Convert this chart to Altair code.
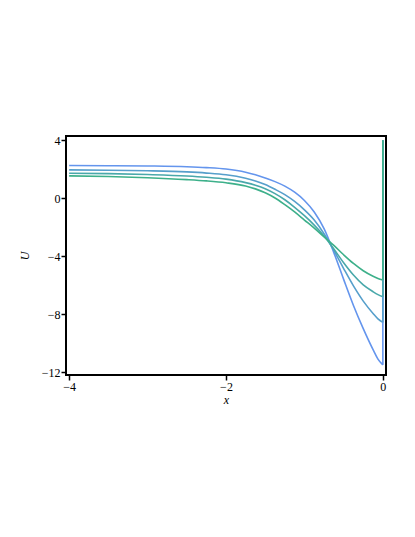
import altair as alt
import pandas as pd

xs = [-4.0, -3.5, -3.0, -2.5, -2.25, -2.0, -1.75, -1.625, -1.5, -1.375, -1.25,
      -1.125, -1.0, -0.875, -0.75, -0.625, -0.5, -0.375, -0.25, -0.125, -0.0625, 0.0]

u1 = [2.26, 2.25, 2.23, 2.18, 2.12, 2.02, 1.80, 1.62, 1.40, 1.15, 0.84,
      0.42, -0.15, -0.95, -2.10, -3.75, -5.60, -7.40, -9.00, -10.45, -11.10, -11.50]
u2 = [1.96, 1.94, 1.90, 1.82, 1.74, 1.62, 1.38, 1.20, 0.95, 0.62, 0.25,
      -0.22, -0.80, -1.50, -2.45, -3.60, -4.85, -6.05, -7.10, -7.95, -8.32, -8.57]
u3 = [1.73, 1.70, 1.64, 1.54, 1.45, 1.32, 1.08, 0.90, 0.66, 0.32, -0.10,
      -0.62, -1.20, -1.85, -2.60, -3.50, -4.45, -5.30, -5.98, -6.45, -6.65, -6.80]
u4 = [1.55, 1.50, 1.42, 1.29, 1.20, 1.07, 0.85, 0.65, 0.38, 0.02, -0.44,
      -0.94, -1.50, -2.06, -2.66, -3.25, -3.90, -4.50, -5.00, -5.38, -5.53, -5.64]

series = ["a", "b", "c", "d"]
colors = ["#6495ED", "#569FCB", "#49A8AA", "#3DB08A"]
top_value = 4.0

rows = []
for name, vals in zip(series, [u1, u2, u3, u4]):
    for x, u in zip(xs, vals):
        rows.append({"x": x, "U": u, "s": name})
df = pd.DataFrame(rows)

ends = pd.DataFrame({
    "s": series,
    "x": [0.0] * 4,
    "U": [u1[-1], u2[-1], u3[-1], u4[-1]],
    "top": [top_value] * 4,
})

xscale = alt.Scale(domain=[-4.04, 0.04], nice=False, zero=False)
yscale = alt.Scale(domain=[-12.2, 4.3], nice=False, zero=False)
cscale = alt.Scale(domain=series, range=colors)

lines = alt.Chart(df).mark_line(strokeWidth=1.6, interpolate="monotone").encode(
    x=alt.X("x:Q", scale=xscale,
            axis=alt.Axis(values=[-4, -2, 0], format="d", title="x")),
    y=alt.Y("U:Q", scale=yscale,
            axis=alt.Axis(values=[-12, -8, -4, 0, 4], format="d", title="U")),
    color=alt.Color("s:N", scale=cscale, legend=None),
    order=alt.Order("x:Q"),
)

rules = alt.Chart(ends).mark_rule(strokeWidth=1.6).encode(
    x=alt.X("x:Q", scale=xscale),
    y=alt.Y("U:Q", scale=yscale),
    y2="top:Q",
    color=alt.Color("s:N", scale=cscale, legend=None),
)

chart = alt.layer(lines, rules).properties(
    width=320,
    height=239,
    autosize=alt.AutoSizeParams(type="none"),
    padding={"left": 58, "top": 128, "right": 20, "bottom": 100},
).configure_view(
    stroke="black", strokeWidth=2
).configure_axis(
    domain=False,
    grid=False,
    ticks=True,
    tickColor="black",
    tickSize=5,
    tickWidth=1.5,
    labelFont="Liberation Serif",
    labelFontSize=12,
    labelColor="black",
    labelPadding=1,
    titleFont="Liberation Serif",
    titleFontSize=12,
    titleFontStyle="italic",
    titleFontWeight="normal",
    titleColor="black",
).configure_axisY(
    titlePadding=10,
).configure_axisX(
    titlePadding=2,
)

chart.save("out.html", embed_options={"renderer": "svg", "actions": False})
